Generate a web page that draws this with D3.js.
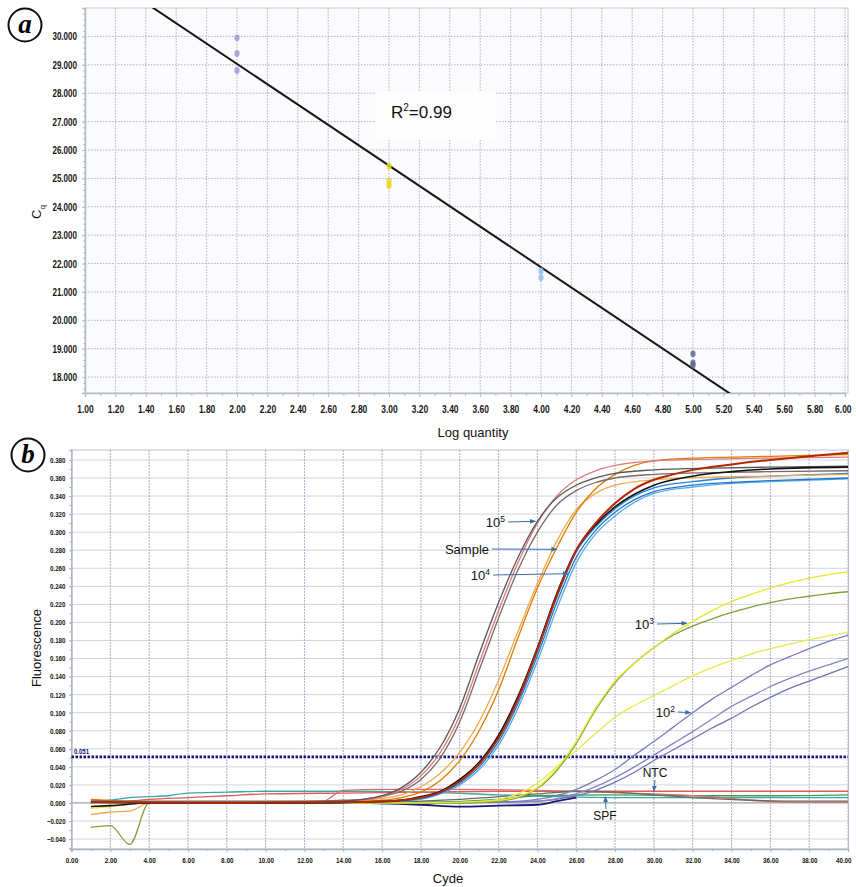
<!DOCTYPE html>
<html>
<head>
<meta charset="utf-8">
<script src="https://cdn.jsdelivr.net/npm/d3@7"></script>
<style>
  body { margin: 0; background: #fff; }
  svg { display: block; }
  .tk text { font-family: "Liberation Sans Narrow", "Arial Narrow", "Liberation Sans", sans-serif; font-weight: bold; fill: #151515; }
  .lbl { font-family: "Liberation Sans", Arial, sans-serif; fill: #111; }
</style>
</head>
<body>
<svg id="chart"></svg>
<script>
// ---- panel a : standard curve ----
const aXTicks = [1.0,1.2,1.4,1.6,1.8,2.0,2.2,2.4,2.6,2.8,3.0,3.2,3.4,3.6,3.8,4.0,4.2,4.4,4.6,4.8,5.0,5.2,5.4,5.6,5.8,6.0];
const aYTicks = [18,19,20,21,22,23,24,25,26,27,28,29,30];
const logQty = [2,2,2,3,3,3,4,4,5,5,5];
const cqVals = [29.95,29.4,28.8,25.43,24.9,24.75,21.74,21.5,18.82,18.5,18.42];
const dilColour = {2:"#9a9ad0", 3:"#e6d81a", 4:"#8ec0f0", 5:"#5a6a90"};
const fitSlope = -3.58, fitIntercept = 36.19;
const rSquared = "0.99";

// ---- panel b : amplification curves, [cycle, fluorescence] ----
const bXTicks = [0,2,4,6,8,10,12,14,16,18,20,22,24,26,28,30,32,34,36,38,40];
const bYTicks = [-0.04,-0.02,0,0.02,0.04,0.06,0.08,0.1,0.12,0.14,0.16,0.18,0.2,0.22,0.24,0.26,0.28,0.3,0.32,0.34,0.36,0.38];
const threshold = 0.051;

const teal = [[1,0.002],[2,0.003],[3,0.006],[4,0.007],[5,0.008],[6,0.011],[8,0.012],[10,0.013],[14,0.013],[18,0.012],[22,0.009],[25,0.007],[28,0.006],[32,0.006],[36,0.006],[40,0.006]];
const redFlat = [[1,0.002],[2,0.0],[4,0.004],[6,0.006],[8,0.008],[10,0.010],[14,0.011],[18,0.012],[22,0.013],[26,0.013],[30,0.013],[34,0.013],[38,0.013],[40,0.013]];
const redStep = [[1,0.0],[12,0.0],[13,0.002],[14,0.014],[16,0.015],[20,0.015],[24,0.014],[27,0.012],[30,0.010],[33,0.007],[35,0.003],[37,0.001],[40,0.001]];
const ntcGrey = [[1,0.0],[16,0.001],[20,0.004],[24,0.010],[26,0.013],[28,0.012],[30,0.009],[32,0.006],[35,0.003],[38,0.002],[40,0.002]];
const spfGreen = [[1,0.0],[18,0.001],[22,0.004],[24,0.008],[28,0.009],[32,0.008],[36,0.008],[40,0.009]];
const navy = [[1,0.0],[8,0.0],[14,0.0],[18,-0.002],[20,-0.004],[22,-0.003],[24,-0.002],[25,0.002],[26,0.006]];

const p2a = [[1,0.0],[18,0.0],[22,0.001],[24,0.004],[25,0.008],[26,0.015],[27,0.025],[28,0.037],[29,0.053],[30,0.068],[31,0.084],[32,0.100],[33,0.115],[34,0.128],[35,0.141],[36,0.153],[37,0.162],[38,0.171],[39,0.179],[40,0.186]];
const p2b = [[1,0.0],[18,0.0],[24,0.002],[26,0.010],[27,0.018],[28,0.028],[29,0.040],[30,0.053],[31,0.066],[32,0.079],[33,0.093],[34,0.107],[35,0.118],[36,0.129],[37,0.138],[38,0.146],[39,0.153],[40,0.160]];
const p2c = [[1,0.0],[18,0.0],[24,0.002],[26,0.008],[27,0.014],[28,0.023],[29,0.034],[30,0.047],[31,0.059],[32,0.071],[33,0.083],[34,0.094],[35,0.106],[36,0.117],[37,0.127],[38,0.135],[39,0.143],[40,0.151]];

const y3low = [[1,0.0],[10,0.0],[18,0.0],[21,0.001],[22,0.004],[23,0.010],[24,0.022],[25,0.040],[26,0.058],[27,0.077],[28,0.095],[29,0.108],[30,0.119],[31,0.130],[32,0.141],[33,0.150],[34,0.158],[35,0.165],[36,0.171],[37,0.176],[38,0.181],[39,0.185],[40,0.189]];
const y3up = [[1,-0.006],[2,-0.004],[4,0.0],[10,0.0],[16,0.0],[20,0.001],[22,0.003],[23,0.007],[24,0.017],[25,0.038],[26,0.068],[27,0.105],[28,0.135],[29,0.155],[30,0.172],[31,0.188],[32,0.201],[33,0.213],[34,0.223],[35,0.231],[36,0.238],[37,0.244],[38,0.249],[39,0.253],[40,0.256]];
const g3 = [[1,-0.027],[2,-0.025],[3,-0.046],[4,0.0],[8,0.001],[12,0.0],[16,0.0],[20,0.0],[22,0.002],[23,0.006],[24,0.016],[25,0.036],[26,0.066],[27,0.103],[28,0.133],[29,0.155],[30,0.172],[31,0.186],[32,0.196],[33,0.204],[34,0.211],[35,0.217],[36,0.222],[37,0.226],[38,0.229],[39,0.232],[40,0.234]];

const b4a = [[1,0.001],[8,0.0],[12,0.0],[15,0.001],[17,0.002],[18,0.005],[19,0.011],[20,0.022],[21,0.040],[22,0.068],[23,0.110],[24,0.163],[25,0.222],[26,0.272],[27,0.302],[28,0.322],[29,0.336],[30,0.345],[32,0.352],[34,0.355],[36,0.357],[40,0.360]];
const b4b = [[1,0.002],[8,0.001],[12,0.0],[15,0.001],[17,0.003],[18,0.006],[19,0.012],[20,0.024],[21,0.043],[22,0.072],[23,0.114],[24,0.168],[25,0.228],[26,0.278],[27,0.306],[28,0.326],[29,0.340],[30,0.349],[32,0.356],[34,0.360],[36,0.362],[40,0.365]];
const b4c = [[1,0.0],[8,0.0],[12,0.001],[15,0.001],[17,0.002],[18,0.004],[19,0.010],[20,0.020],[21,0.037],[22,0.064],[23,0.105],[24,0.157],[25,0.215],[26,0.266],[27,0.298],[28,0.318],[29,0.333],[30,0.343],[32,0.350],[34,0.354],[36,0.356],[40,0.359]];
const r4 = [[1,0.001],[8,0.0],[15,0.001],[17,0.003],[18,0.006],[19,0.012],[20,0.024],[21,0.043],[22,0.072],[23,0.115],[24,0.170],[25,0.230],[26,0.280],[27,0.310],[28,0.332],[29,0.348],[30,0.358],[31,0.364],[32,0.369],[34,0.375],[36,0.380],[38,0.384],[40,0.388]];
const k4 = [[1,-0.004],[2,-0.003],[4,0.0],[8,0.0],[12,0.0],[15,0.001],[17,0.003],[18,0.007],[19,0.013],[20,0.026],[21,0.045],[22,0.075],[23,0.118],[24,0.172],[25,0.232],[26,0.280],[27,0.308],[28,0.328],[29,0.342],[30,0.352],[32,0.362],[34,0.367],[36,0.370],[40,0.372]];

const sDark = [[1,0.004],[4,0.001],[8,0.0],[12,0.001],[15,0.002],[16,0.003],[17,0.006],[18,0.012],[19,0.025],[20,0.047],[21,0.080],[22,0.125],[23,0.183],[24,0.238],[25,0.283],[26,0.322],[27,0.348],[28,0.364],[29,0.374],[30,0.379],[32,0.382],[36,0.384],[40,0.386]];
const sLight = [[1,-0.013],[2,-0.010],[3,-0.009],[4,0.0],[8,0.001],[12,0.002],[15,0.003],[16,0.005],[17,0.009],[18,0.018],[19,0.033],[20,0.056],[21,0.090],[22,0.136],[23,0.190],[24,0.243],[25,0.290],[26,0.325],[27,0.343],[28,0.352],[30,0.358],[33,0.361],[36,0.362],[40,0.364]];

const e5a = [[1,0.001],[4,0.0],[8,0.001],[12,0.001],[14,0.002],[15,0.004],[16,0.008],[17,0.017],[18,0.034],[19,0.062],[20,0.105],[21,0.165],[22,0.222],[23,0.272],[24,0.312],[25,0.338],[26,0.352],[27,0.360],[28,0.365],[30,0.369],[33,0.371],[36,0.372],[40,0.373]];
const e5b = [[1,0.0],[8,0.001],[12,0.001],[14,0.002],[15,0.003],[16,0.007],[17,0.015],[18,0.030],[19,0.056],[20,0.097],[21,0.155],[22,0.213],[23,0.266],[24,0.310],[25,0.340],[26,0.358],[27,0.368],[28,0.374],[30,0.379],[33,0.381],[36,0.382],[40,0.383]];
const e5c = [[1,0.002],[8,0.002],[12,0.002],[14,0.003],[15,0.004],[16,0.007],[17,0.013],[18,0.026],[19,0.050],[20,0.090],[21,0.147],[22,0.205],[23,0.258],[24,0.300],[25,0.330],[26,0.346],[27,0.355],[28,0.360],[30,0.364],[33,0.366],[36,0.367],[40,0.368]];

const curves = [
  {pts: teal, c: "#3aa6a6"}, {pts: spfGreen, c: "#3a9a5a"}, {pts: redFlat, c: "#e05a5a"},
  {pts: redStep, c: "#e06a6a"}, {pts: ntcGrey, c: "#6a6a5a"}, {pts: navy, c: "#1a1a7a", w: 1.8},
  {pts: p2c, c: "#7373b2"}, {pts: p2b, c: "#8686c4"}, {pts: p2a, c: "#7b7bbd"},
  {pts: y3low, c: "#e8e84a"}, {pts: g3, c: "#7f9f3a"}, {pts: y3up, c: "#e6e62e"},
  {pts: b4c, c: "#5aaae6"}, {pts: b4b, c: "#2a80d4"}, {pts: b4a, c: "#1f78cc"},
  {pts: sLight, c: "#f0a850"}, {pts: sDark, c: "#db7d00"},
  {pts: e5c, c: "#7a6868"}, {pts: e5b, c: "#e07878"}, {pts: e5a, c: "#575757"},
  {pts: k4, c: "#111111", w: 1.6}, {pts: r4, c: "#b32800", w: 2}
];

const W = 856, H = 887;
const svg = d3.select("#chart").attr("width", W).attr("height", H);

const defs = svg.append("defs");
defs.append("marker").attr("id", "arr")
  .attr("viewBox", "0 0 10 10").attr("refX", 9).attr("refY", 5)
  .attr("markerWidth", 6).attr("markerHeight", 6).attr("orient", "auto")
  .append("path").attr("d", "M0,1L10,5L0,9Z").attr("fill", "#3b6ea8");

function panelTag(x, y, t) {
  svg.append("circle").attr("cx", x).attr("cy", y).attr("r", 16.5)
    .attr("fill", "#fff").attr("stroke", "#111").attr("stroke-width", 2);
  svg.append("text").attr("x", x).attr("y", y + 8).attr("text-anchor", "middle")
    .style("font", "italic bold 27px 'Liberation Serif', 'DejaVu Serif', serif").text(t);
}

// squeeze the tick labels into a condensed look; the last x label hugs the edge
function squeeze(g, size, perChar) {
  g.selectAll("text").style("font-size", size + "px")
    .attr("textLength", function() { return this.textContent.length * perChar; })
    .attr("lengthAdjust", "spacingAndGlyphs");
}
function pullLast(g, dx) {
  g.selectAll(".tick:last-of-type text").attr("text-anchor", "end").attr("x", dx);
}

// ================= panel a =================
const ax = d3.scaleLinear().domain([1, 6]).range([85, 845]);
const ay = d3.scaleLinear().domain([17.44, 31]).range([393, 8]);
const ga = svg.append("g");

ga.append("rect").attr("x", 85).attr("y", 8).attr("width", 763).attr("height", 385)
  .attr("fill", "#fbfbfd").attr("stroke", "#c4ccd8");
ga.append("g").selectAll("line").data(aXTicks.slice(1)).join("line")
  .attr("x1", d => ax(d)).attr("x2", d => ax(d)).attr("y1", 8).attr("y2", 393)
  .attr("stroke", "#aab4c6").attr("stroke-dasharray", "1.5,1.5");
ga.append("g").selectAll("line").data(aYTicks).join("line")
  .attr("x1", 85).attr("x2", 848).attr("y1", d => ay(d)).attr("y2", d => ay(d))
  .attr("stroke", "#aab4c6").attr("stroke-dasharray", "1.5,1.5");

// white box behind the R² label, like the original
ga.append("rect").attr("x", 375).attr("y", 92).attr("width", 120).attr("height", 48).attr("fill", "#fdfdfe");

const axA = ga.append("g").attr("class", "tk").attr("transform", "translate(0,393)")
  .call(d3.axisBottom(ax).tickValues(aXTicks).tickFormat(d3.format(".2f")).tickSize(4).tickPadding(8));
const ayA = ga.append("g").attr("class", "tk").attr("transform", "translate(85,0)")
  .call(d3.axisLeft(ay).tickValues(aYTicks).tickFormat(d3.format(".3f")).tickSize(3).tickPadding(5));
[axA, ayA].forEach(g => {
  g.selectAll("path.domain").attr("stroke", "#b4bccb").attr("stroke-width", 1.5);
  g.selectAll("line").attr("stroke", "#b4bccb");
  squeeze(g, 11, 4.1);
});
pullLast(axA, 6);
axA.append("g").call(d3.axisBottom(ax).tickValues(d3.range(1.1, 6, 0.2)).tickFormat("").tickSize(3))
  .call(g => g.select(".domain").remove()).selectAll("line").attr("stroke", "#b4bccb");
ayA.append("g").call(d3.axisLeft(ay).tickValues(d3.range(17.6, 31, 0.2)).tickFormat("").tickSize(2))
  .call(g => g.select(".domain").remove()).selectAll("line").attr("stroke", "#b4bccb");

ga.append("clipPath").attr("id", "clipA").append("rect")
  .attr("x", 85).attr("y", 8).attr("width", 763).attr("height", 385);
ga.append("line").attr("clip-path", "url(#clipA)")
  .attr("x1", ax(1)).attr("y1", ay(fitIntercept + fitSlope * 1))
  .attr("x2", ax(6)).attr("y2", ay(fitIntercept + fitSlope * 6))
  .attr("stroke", "#151515").attr("stroke-width", 2);

ga.append("g").selectAll("ellipse").data(logQty).join("ellipse")
  .attr("cx", d => ax(d)).attr("cy", (d, i) => ay(cqVals[i]))
  .attr("rx", 2.6).attr("ry", 3.4).attr("fill", d => dilColour[d]).attr("opacity", 0.85);

const r2 = ga.append("text").attr("class", "lbl").attr("x", 391).attr("y", 118)
  .style("font-size", "17px").text("R");
r2.append("tspan").attr("dy", -7).style("font-size", "10px").text("2");
r2.append("tspan").attr("dy", 7).text("=" + rSquared);

const cq = ga.append("text").attr("class", "lbl").attr("transform", "translate(41,212) rotate(-90)")
  .attr("text-anchor", "middle").style("font-size", "13px").text("C");
cq.append("tspan").attr("dy", 4).style("font-size", "8px").text("q");
ga.append("text").attr("class", "lbl").attr("x", 473).attr("y", 437).attr("text-anchor", "middle")
  .style("font-size", "13px").text("Log quantity");

panelTag(25, 25, "a");

// ================= panel b =================
const bx = d3.scaleLinear().domain([0, 40]).range([71.5, 848]);
const by = d3.scaleLinear().domain([-0.051, 0.391]).range([849, 450]);
const gb = svg.append("g");

gb.append("rect").attr("x", 71.5).attr("y", 450).attr("width", 777).attr("height", 399)
  .attr("fill", "#fff").attr("stroke", "#bcc4d0");
gb.append("g").selectAll("line").data(bYTicks).join("line")
  .attr("x1", 71.5).attr("x2", 848).attr("y1", d => by(d)).attr("y2", d => by(d))
  .attr("stroke", d => d === 0 ? "#9aa0aa" : "#d0d5dd").attr("stroke-width", d => d === 0 ? 1.2 : 1);
gb.append("g").selectAll("line").data(bXTicks.slice(1)).join("line")
  .attr("x1", d => bx(d)).attr("x2", d => bx(d)).attr("y1", 450).attr("y2", 849)
  .attr("stroke", "#a8b2c6").attr("stroke-dasharray", "2,1");

const axB = gb.append("g").attr("class", "tk").attr("transform", "translate(0,849)")
  .call(d3.axisBottom(bx).tickValues(bXTicks).tickFormat(d3.format(".2f")).tickSize(3).tickPadding(6));
const ayB = gb.append("g").attr("class", "tk").attr("transform", "translate(71.5,0)")
  .call(d3.axisLeft(by).tickValues(bYTicks).tickFormat(d3.format(".3f")).tickSize(2).tickPadding(4));
[axB, ayB].forEach(g => {
  g.selectAll("path.domain").attr("stroke", "#a8b0bf").attr("stroke-width", 1.3);
  g.selectAll("line").attr("stroke", "#a8b0bf");
  squeeze(g, 7.5, 3.1);
});
pullLast(axB, 3);
axB.append("g").call(d3.axisBottom(bx).tickValues(d3.range(1, 40, 2)).tickFormat("").tickSize(2))
  .call(g => g.select(".domain").remove()).selectAll("line").attr("stroke", "#a8b0bf");
ayB.append("g").call(d3.axisLeft(by).tickValues(d3.range(-0.05, 0.39, 0.01)).tickFormat("").tickSize(2))
  .call(g => g.select(".domain").remove()).selectAll("line").attr("stroke", "#a8b0bf");

gb.append("line").attr("x1", 71.5).attr("x2", 848).attr("y1", by(threshold)).attr("y2", by(threshold))
  .attr("stroke", "#12127a").attr("stroke-width", 2.6).attr("stroke-dasharray", "2.5,1.5");
gb.append("text").attr("x", 74).attr("y", by(threshold) - 3)
  .style("font", "bold 7.5px 'Liberation Sans', sans-serif")
  .attr("textLength", 15).attr("lengthAdjust", "spacingAndGlyphs")
  .attr("fill", "#12127a").text(d3.format(".3f")(threshold));

const line = d3.line().x(d => bx(d[0])).y(d => by(d[1])).curve(d3.curveMonotoneX);
gb.append("g").attr("fill", "none").selectAll("path").data(curves).join("path")
  .attr("d", d => line(d.pts)).attr("stroke", d => d.c)
  .attr("stroke-width", d => d.w || 1.3).attr("stroke-linejoin", "round");

// annotations: arrow tips sit on the curves
function note(tip, txt, sup, tx, ty) {
  const t = gb.append("text").attr("class", "lbl").attr("x", tx).attr("y", ty)
    .attr("text-anchor", "end").style("font-size", "13px").text(txt);
  if (sup) t.append("tspan").attr("dy", -5).style("font-size", "8.5px").text(sup);
  gb.append("line").attr("x1", tx + 3).attr("y1", ty - 5).attr("x2", bx(tip[0])).attr("y2", by(tip[1]))
    .attr("stroke", "#3b6ea8").attr("stroke-width", 1).attr("marker-end", "url(#arr)");
}
note([23.9, 0.312], "10", "5", 505, 527);
note([25.0, 0.281], "Sample", null, 489, 554);
note([25.6, 0.254], "10", "4", 490, 580);
note([31.7, 0.199], "10", "3", 654, 629);
note([31.9, 0.100], "10", "2", 675, 717);

gb.append("text").attr("class", "lbl").attr("x", 655).attr("y", 777).attr("text-anchor", "middle")
  .style("font-size", "12px").text("NTC");
gb.append("line").attr("x1", 655).attr("y1", 780).attr("x2", bx(30.0)).attr("y2", by(0.013))
  .attr("stroke", "#3b6ea8").attr("marker-end", "url(#arr)");
gb.append("text").attr("class", "lbl").attr("x", 605).attr("y", 820).attr("text-anchor", "middle")
  .style("font-size", "12px").text("SPF");
gb.append("line").attr("x1", 606).attr("y1", 809).attr("x2", bx(27.5)).attr("y2", by(0.007))
  .attr("stroke", "#3b6ea8").attr("marker-end", "url(#arr)");

gb.append("text").attr("class", "lbl").attr("transform", "translate(41,648) rotate(-90)")
  .attr("text-anchor", "middle").style("font-size", "13px").text("Fluorescence");
gb.append("text").attr("class", "lbl").attr("x", 448).attr("y", 883).attr("text-anchor", "middle")
  .style("font-size", "13px").text("Cyde");

panelTag(28, 455, "b");
</script>
</body>
</html>
